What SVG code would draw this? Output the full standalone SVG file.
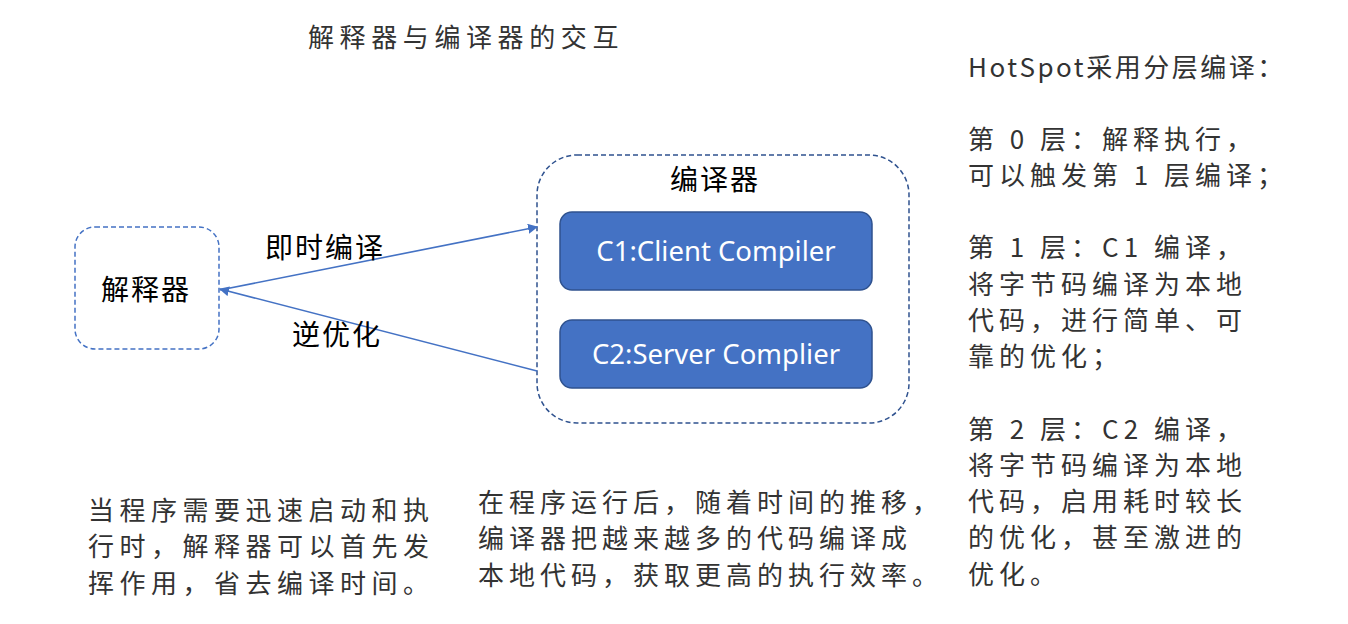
<svg xmlns="http://www.w3.org/2000/svg" width="1348" height="624" viewBox="0 0 1348 624">
<style>
.hw{font-family:"Noto Sans CJK SC","Noto Sans",sans-serif;font-size:26px;fill:#333;letter-spacing:5px}
.lbl{font-family:"Noto Sans CJK SC","Noto Sans",sans-serif;font-size:28px;fill:#000;letter-spacing:2px}
.cbox{fill:#4472C4;stroke:#2F528F;stroke-width:1.5}
.ctxt{font-family:"Noto Sans","Noto Sans CJK SC",sans-serif;font-size:27.5px;fill:#fff;text-anchor:middle}
.conn{stroke:#4472C4;stroke-width:1.6;fill:none}
</style>
<defs>
<marker id="ah2" viewBox="0 0 10 10" refX="9" refY="5" markerWidth="10" markerHeight="10" markerUnits="userSpaceOnUse" orient="auto">
<path d="M0,0 L10,5 L0,10 z" fill="#4472C4"/>
</marker>
</defs>
<rect width="1348" height="624" fill="#fff"/>
<text class="hw" x="308" y="47" style="letter-spacing:5.6px">解释器与编译器的交互</text>

<g id="interpreter">
<rect x="75" y="227" width="144" height="122" rx="20" fill="#fff" stroke="#4472C4" stroke-width="1.5" stroke-dasharray="5,3"/>
<text class="lbl" x="101" y="300">解释器</text>
</g>

<g id="compiler">
<rect x="537" y="155" width="372" height="268" rx="40" fill="#fff" stroke="#2F528F" stroke-width="1.5" stroke-dasharray="5,3"/>
<text class="lbl" x="670" y="190">编译器</text>
</g>

<g id="c1">
<rect class="cbox" x="560" y="212" width="312" height="78" rx="12"/>
<text class="ctxt" x="716" y="261">C1:Client Compiler</text>
</g>

<g id="c2">
<rect class="cbox" x="560" y="320" width="312" height="68" rx="12"/>
<text class="ctxt" x="716" y="364">C2:Server Complier</text>
</g>

<g id="connectors">
<line class="conn" x1="220" y1="290" x2="537" y2="227" marker-end="url(#ah2)"/>
<line class="conn" x1="537" y1="371" x2="220" y2="289" marker-end="url(#ah2)"/>
<text class="lbl" x="265" y="258">即时编译</text>
<text class="lbl" x="292" y="345">逆优化</text>
</g>

<g id="notes">
<text class="hw" x="968" y="77" style="letter-spacing:2.5px">HotSpot采用分层编译：</text>
<text class="hw" x="968" y="149">第 0 层：解释执行，</text>
<text class="hw" x="968" y="185">可以触发第 1 层编译；</text>
<text class="hw" x="968" y="257">第 1 层：C1 编译，</text>
<text class="hw" x="968" y="294">将字节码编译为本地</text>
<text class="hw" x="968" y="330">代码，进行简单、可</text>
<text class="hw" x="968" y="366">靠的优化；</text>
<text class="hw" x="968" y="439">第 2 层：C2 编译，</text>
<text class="hw" x="968" y="475">将字节码编译为本地</text>
<text class="hw" x="968" y="511">代码，启用耗时较长</text>
<text class="hw" x="968" y="547">的优化，甚至激进的</text>
<text class="hw" x="968" y="584">优化。</text>

<text class="hw" x="88" y="520" style="letter-spacing:5.5px">当程序需要迅速启动和执</text>
<text class="hw" x="88" y="556" style="letter-spacing:5.5px">行时，解释器可以首先发</text>
<text class="hw" x="88" y="593" style="letter-spacing:5.5px">挥作用，省去编译时间。</text>

<text class="hw" x="478" y="512">在程序运行后，随着时间的推移，</text>
<text class="hw" x="478" y="548">编译器把越来越多的代码编译成</text>
<text class="hw" x="478" y="585">本地代码，获取更高的执行效率。</text>
</g>
</svg>
